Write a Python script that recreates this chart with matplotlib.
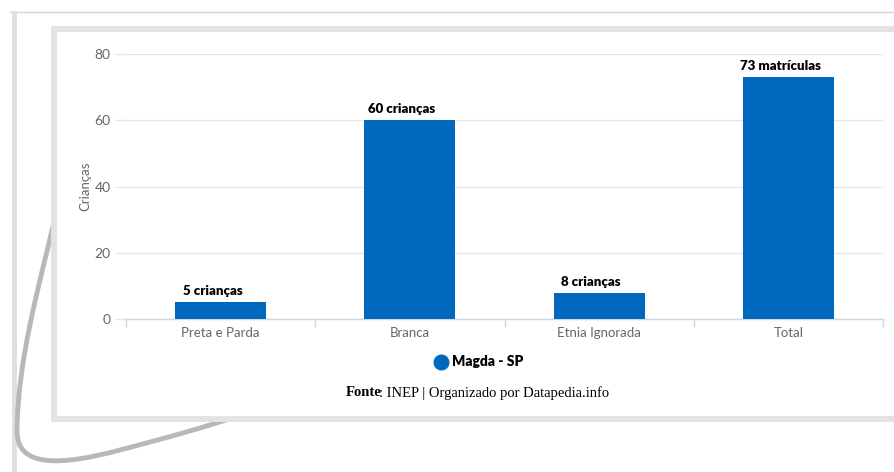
import matplotlib
matplotlib.use("Agg")
import matplotlib.pyplot as plt
from matplotlib.patches import Rectangle, PathPatch
from matplotlib.path import Path
from matplotlib.lines import Line2D
from matplotlib import transforms
import numpy as np

categories = ["Preta e Parda", "Branca", "Etnia Ignorada", "Total"]
values = [5, 60, 8, 73]
value_labels = ["5 crianças", "60 crianças", "8 crianças", "73 matrículas"]
series_name = "Magda - SP"
y_ticks = [0, 20, 40, 60, 80]
y_label = "Crianças"
source_bold = "Fonte"
source_rest = ": INEP | Organizado por Datapedia.info"

W, H = 894, 472
BAR = "#0069be"
fig = plt.figure(figsize=(W / 100, H / 100), dpi=100)
fig.patch.set_facecolor("white")

px = transforms.Affine2D().scale(1 / W, -1 / H).translate(0, 1) + fig.transFigure

# outer frame: thin top line and left band
fig.add_artist(Line2D([10, W], [11.5, 11.5], transform=px, color="#d4d4d4", lw=1.0, zorder=-5))
fig.add_artist(Rectangle((12, 11), 5, H, transform=px, facecolor="#e0e0e0", edgecolor="none", zorder=-5))

# curled paper decoration
verts = [(53, 226), (38, 290), (18, 360), (17, 430),
         (16, 468), (60, 466), (120, 450),
         (170, 437), (205, 427), (235, 417)]
codes = [Path.MOVETO, Path.CURVE4, Path.CURVE4, Path.CURVE4,
         Path.CURVE4, Path.CURVE4, Path.CURVE4,
         Path.CURVE4, Path.CURVE4, Path.CURVE4]
fig.add_artist(PathPatch(Path(verts, codes), transform=px, facecolor="none",
                         edgecolor="#b8b8b8", lw=3.5, zorder=-4, capstyle="round"))

# card
fig.add_artist(Rectangle((54, 28.5), W, 390, transform=px, facecolor="white",
                         edgecolor="#e3e3e3", lw=4.3, zorder=-3))

# axes
ax = fig.add_axes([126 / W, 1 - 319 / H, (883 - 126) / W, (319 - 54) / H])
ax.set_zorder(5)
ax.patch.set_alpha(0)
x = np.arange(len(categories))
bars = ax.bar(x, values, width=0.48, color=BAR, zorder=3)
ax.set_xlim(-0.5, len(categories) - 0.5)
ax.set_ylim(0, 80)
ax.set_yticks(y_ticks)
ax.set_yticklabels([str(v) for v in y_ticks])
ax.grid(axis="y", color="#e6e6e6", lw=1, zorder=0)
ax.tick_params(axis="y", length=8, width=1, color="#e6e6e6", pad=3,
               labelsize=10, labelcolor="#666666")
ax.set_xticks(x)
ax.set_xticklabels(categories, fontsize=9.5, color="#666666")
ax.set_xticks(np.arange(-0.5, len(categories)), minor=True)
ax.tick_params(axis="x", which="major", length=0, pad=6)
ax.tick_params(axis="x", which="minor", length=6, color="#ccd6eb", width=1)
for s in ["top", "right", "left"]:
    ax.spines[s].set_visible(False)
ax.spines["bottom"].set_color("#ccd6eb")
ax.spines["bottom"].set_linewidth(1)
ax.set_ylabel(y_label, fontsize=9.5, color="#666666", labelpad=2)
for t in ax.get_xticklabels() + ax.get_yticklabels():
    t.set_family("Lato")
ax.yaxis.label.set_family("Lato")

for xi, v, lab in zip(x, values, value_labels):
    ax.text(xi, v, lab, transform=transforms.offset_copy(ax.transData, fig=fig, x=-8, y=5, units="dots"),
            ha="center", va="bottom", fontsize=9.5, fontweight="heavy",
            family="Lato", color="black", zorder=6)

# legend
handle = Line2D([], [], marker="o", linestyle="", color=BAR, markersize=10.5)
leg = fig.legend([handle], [series_name], loc="center",
                 bbox_to_anchor=(479 / W, 1 - 362 / H), frameon=False,
                 prop={"family": "Lato", "weight": "heavy", "size": 10},
                 handletextpad=0.3, handlelength=1.0)

# source
t0 = fig.text(346 / W, 1 - 393 / H, source_bold, family="Liberation Serif",
              fontweight="bold", fontsize=10.5, va="center", ha="left")
fig.canvas.draw()
bb = t0.get_window_extent()
fig.text((bb.x1 - 3) / W, 1 - 393 / H, source_rest, family="Liberation Serif",
         fontsize=10.5, va="center", ha="left")

fig.savefig("out.png", dpi=100, facecolor="white")
